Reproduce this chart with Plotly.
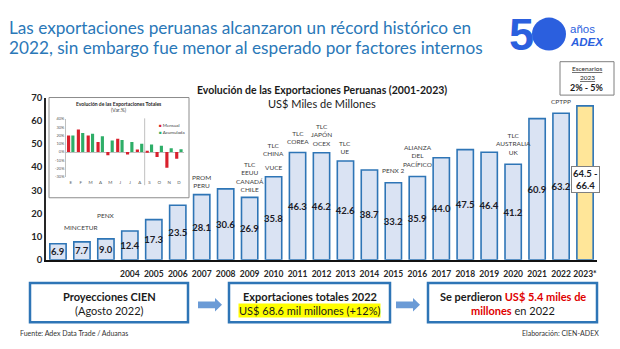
import plotly.graph_objects as go

W, H = 620, 349

# ---------------- data ----------------
years = [str(y) for y in range(2001, 2023)] + ["2023*"]
exports = [6.9, 7.7, 9.0, 12.4, 17.3, 23.5, 28.1, 30.6, 26.9, 35.8, 46.3, 46.2,
           42.6, 38.7, 33.2, 35.9, 44.0, 47.5, 46.4, 41.2, 60.9, 63.2, 66.4]
scenario_low, scenario_high = 64.5, 66.4
tick_years = ["", "", ""] + [str(y) for y in range(2004, 2023)] + ["2023*"]

events = [
    ("2002", "MINCETUR"),
    ("2003", "PENX"),
    ("2007", "PROM<br>PERU"),
    ("2009", "TLC<br>EEUU<br>CANADÁ<br>CHILE"),
    ("2010", "VUCE"),
    ("2010", "TLC<br>CHINA"),
    ("2011", "TLC<br>COREA"),
    ("2012", "TLC<br>JAPÓN<br>OCEX"),
    ("2013", "TLC<br>UE"),
    ("2015", "PENX 2"),
    ("2016", "ALIANZA<br>DEL<br>PACÍFICO"),
    ("2020", "TLC<br>AUSTRALIA<br>UK"),
    ("2022", "CPTPP"),
]

months = ["E", "F", "M", "A", "M", "J", "J", "A", "S", "O", "N", "D"]
mensual = [20, 27, 20, 12, -4, 16, -3, 3, 0.5, -6, -19, -8]
acumulada = [20, 23, 22, 19, 14, 14.5, 12, 10, 9, 7.5, 4.5, 3.5]
inset_ticks = [-30, -20, -10, 0, 10, 20, 30, 40]

# ---------------- helpers ----------------
def px(x):
    return x / W

def py(y):
    return 1 - y / H

FONT = "Lato"
BLUE_T = "#2a78b8"
LOGO = "#2b5fde"

fig = go.Figure()

bar_fill = ["#dae3f3"] * (len(years) - 1) + ["#ffe699"]
bar_text = [f"{v:.1f}" for v in exports[:-1]] + [""]
xi = list(range(len(years)))
fig.add_trace(go.Bar(
    x=xi, y=exports, xaxis="x", yaxis="y",
    marker=dict(color=bar_fill, line=dict(color="#2e75b6", width=1.6)),
    width=0.68,
    text=bar_text, textposition="inside", insidetextanchor="middle",
    textangle=0, constraintext="none",
    textfont=dict(family=FONT, size=9.5, color="#1c1c28", weight="bold"),
    showlegend=False, hoverinfo="skip",
))

mx = list(range(len(months)))
fig.add_trace(go.Bar(
    x=mx, y=mensual, xaxis="x2", yaxis="y2", width=0.32, offset=-0.4,
    marker=dict(color="#d9202c", line=dict(width=0)), showlegend=False, hoverinfo="skip"))
fig.add_trace(go.Bar(
    x=mx, y=acumulada, xaxis="x2", yaxis="y2", width=0.32, offset=0.04,
    marker=dict(color="#2eae68", line=dict(width=0)), showlegend=False, hoverinfo="skip"))

shapes = []
annotations = []

# inset frame
shapes.append(dict(type="rect", xref="paper", yref="paper", x0=px(49), x1=px(189),
                   y0=py(198), y1=py(94.5), line=dict(color="#8c8c8c", width=1),
                   fillcolor="white", layer="below"))
# inset divider
shapes.append(dict(type="line", xref="x2", yref="paper", x0=7.5, x1=7.5,
                   y0=py(185), y1=py(116), line=dict(color="#a6a6a6", width=0.7)))

# escenarios box
shapes.append(dict(type="rect", xref="paper", yref="paper", x0=px(560), x1=px(614),
                   y0=py(92), y1=py(57.5), line=dict(color="#7f7f7f", width=1),
                   fillcolor="white"))

# bottom boxes
for x0, x1 in [(30, 188), (229, 390), (428, 597)]:
    shapes.append(dict(type="rect", xref="paper", yref="paper", x0=px(x0), x1=px(x1),
                       y0=py(326.5), y1=py(286), line=dict(color="#2e75b6", width=2.5),
                       fillcolor="white"))

# arrows
for ax0 in [198, 396]:
    path = (f"M {px(ax0)},{py(305)} L {px(ax0+17)},{py(305)} L {px(ax0+17)},{py(301.5)} "
            f"L {px(ax0+24)},{py(308.5)} L {px(ax0+17)},{py(315.5)} L {px(ax0+17)},{py(312)} "
            f"L {px(ax0)},{py(312)} Z")
    shapes.append(dict(type="path", xref="paper", yref="paper", path=path,
                       fillcolor="#6b9bd6", line=dict(width=0)))

# logo circle
shapes.append(dict(type="circle", xref="paper", yref="paper", x0=px(532), x1=px(566),
                   y0=py(46), y1=py(12), fillcolor=LOGO, line=dict(width=0)))

# header title
annotations.append(dict(xref="paper", yref="paper", x=px(7), y=py(22.5), xanchor="left",
                        yanchor="middle", showarrow=False, align="left",
                        text="Las exportaciones peruanas alcanzaron un récord histórico en",
                        font=dict(family=FONT, size=17.2, color=BLUE_T)))
annotations.append(dict(xref="paper", yref="paper", x=px(7), y=py(43), xanchor="left",
                        yanchor="middle", showarrow=False, align="left",
                        text="2022, sin embargo fue menor al esperado por factores internos",
                        font=dict(family=FONT, size=17.2, color=BLUE_T)))

# logo texts
annotations.append(dict(xref="paper", yref="paper", x=px(536), y=py(29.5), xanchor="right",
                        yanchor="middle", showarrow=False, text="<b>5</b>",
                        font=dict(family="Liberation Sans", size=45, color=LOGO)))
annotations.append(dict(xref="paper", yref="paper", x=px(568), y=py(24), xanchor="left",
                        yanchor="middle", showarrow=False, text="años",
                        font=dict(family="Liberation Sans", size=11.5, color=LOGO)))
annotations.append(dict(xref="paper", yref="paper", x=px(568), y=py(37), xanchor="left",
                        yanchor="middle", showarrow=False, text="<b><i>ADEX</i></b>",
                        font=dict(family="Liberation Sans", size=11.5, color=LOGO)))

# chart title
annotations.append(dict(xref="paper", yref="paper", x=px(322), y=py(87), xanchor="center",
                        yanchor="middle", showarrow=False,
                        text="<b>Evolución de las Exportaciones Peruanas (2001-2023)</b>",
                        font=dict(family=FONT, size=10.5, color="#1a1a1a")))
annotations.append(dict(xref="paper", yref="paper", x=px(322), y=py(101), xanchor="center",
                        yanchor="middle", showarrow=False, text="US$ Miles de Millones",
                        font=dict(family=FONT, size=11, color="#1a1a1a")))

# escenarios text
annotations.append(dict(xref="paper", yref="paper", x=px(587), y=py(65), xanchor="center",
                        yanchor="middle", showarrow=False, text="<u>Escenarios</u>",
                        font=dict(family=FONT, size=6.5, color="#262626")))
annotations.append(dict(xref="paper", yref="paper", x=px(587), y=py(73.5), xanchor="center",
                        yanchor="middle", showarrow=False, text="<u>2023</u>",
                        font=dict(family=FONT, size=6.5, color="#262626")))
annotations.append(dict(xref="paper", yref="paper", x=px(587), y=py(84), xanchor="center",
                        yanchor="middle", showarrow=False, text="<b>2% - 5%</b>",
                        font=dict(family=FONT, size=9, color="#1a1a1a")))

# event labels
event_shift = {"MINCETUR": 9, "PENX": 18, "PROM<br>PERU": 4,
               "TLC<br>EEUU<br>CANADÁ<br>CHILE": 2, "VUCE": 4, "TLC<br>CHINA": 18,
               "TLC<br>COREA": 5, "TLC<br>JAPÓN<br>OCEX": 4, "TLC<br>UE": 4,
               "PENX 2": 7, "ALIANZA<br>DEL<br>PACÍFICO": 7, "TLC<br>AUSTRALIA<br>UK": 6,
               "CPTPP": 6}
for yr, label in events:
    i = years.index(yr)
    annotations.append(dict(xref="x", yref="y", x=i, y=exports[i], xanchor="center",
                            yanchor="bottom", yshift=event_shift[label], showarrow=False,
                            text=label, font=dict(family=FONT, size=6.5, color="#404040")))

# 2023 scenario label
annotations.append(dict(xref="x", yref="y", x=len(years) - 1, y=scenario_high / 2, yshift=3,
                        xanchor="center", yanchor="middle", showarrow=False,
                        text=f"<b>{scenario_low} -<br>{scenario_high}</b>",
                        bgcolor="white", bordercolor="#7f7f7f", borderwidth=1, borderpad=1,
                        font=dict(family=FONT, size=9.5, color="#1c1c28")))

# inset title & legend
annotations.append(dict(xref="paper", yref="paper", x=px(119), y=py(101.5), xanchor="center",
                        yanchor="middle", showarrow=False,
                        text="<b>Evolución de las Exportaciones Totales</b>",
                        font=dict(family=FONT, size=5, color="#262626")))
annotations.append(dict(xref="paper", yref="paper", x=px(119), y=py(107.5), xanchor="center",
                        yanchor="middle", showarrow=False, text="(Var.%)",
                        font=dict(family=FONT, size=5, color="#404040")))
annotations.append(dict(xref="paper", yref="paper", x=px(157), y=py(123.5), xanchor="left",
                        yanchor="middle", showarrow=False,
                        text="<span style='color:#d9202c'>■</span> Mensual",
                        font=dict(family=FONT, size=4.5, color="#404040")))
annotations.append(dict(xref="paper", yref="paper", x=px(157), y=py(131), xanchor="left",
                        yanchor="middle", showarrow=False,
                        text="<span style='color:#2eae68'>■</span> Acumulada",
                        font=dict(family=FONT, size=4.5, color="#404040")))

# bottom box texts
box_font = dict(family=FONT, size=11, color="#1a1a1a")
annotations.append(dict(xref="paper", yref="paper", x=px(109), y=py(300), xanchor="center",
                        yanchor="middle", showarrow=False, text="<b>Proyecciones CIEN</b>",
                        font=box_font))
annotations.append(dict(xref="paper", yref="paper", x=px(109), y=py(314.5), xanchor="center",
                        yanchor="middle", showarrow=False, text="(Agosto 2022)", font=box_font))
annotations.append(dict(xref="paper", yref="paper", x=px(309.5), y=py(300), xanchor="center",
                        yanchor="middle", showarrow=False,
                        text="<b>Exportaciones totales 2022</b>", font=box_font))
annotations.append(dict(xref="paper", yref="paper", x=px(309.5), y=py(314.5), xanchor="center",
                        yanchor="middle", showarrow=False,
                        text="US$ 68.6 mil millones (+12%)", bgcolor="#ffff00", borderpad=0,
                        font=box_font))
annotations.append(dict(xref="paper", yref="paper", x=px(512.5), y=py(300), xanchor="center",
                        yanchor="middle", showarrow=False,
                        text="<b>Se perdieron <span style='color:#e00000'>US$ 5.4 miles de</span></b>",
                        font=box_font))
annotations.append(dict(xref="paper", yref="paper", x=px(512.5), y=py(314.5), xanchor="center",
                        yanchor="middle", showarrow=False,
                        text="<b><span style='color:#e00000'>millones</span></b> en 2022",
                        font=box_font))

# footer
annotations.append(dict(xref="paper", yref="paper", x=px(18), y=py(338), xanchor="left",
                        yanchor="middle", showarrow=False, text="Fuente: Adex Data Trade / Aduanas",
                        font=dict(family=FONT, size=7, color="#333333")))
annotations.append(dict(xref="paper", yref="paper", x=px(601), y=py(338), xanchor="right",
                        yanchor="middle", showarrow=False, text="Elaboración: CIEN-ADEX",
                        font=dict(family=FONT, size=7, color="#333333")))

fig.update_layout(
    width=W, height=H, margin=dict(l=0, r=0, t=0, b=0),
    paper_bgcolor="white", plot_bgcolor="rgba(0,0,0,0)",
    barmode="overlay", showlegend=False,
    shapes=shapes, annotations=annotations,
    xaxis=dict(domain=[px(46), px(597)], anchor="y",
               range=[-0.5, len(years) - 0.5], tickmode="array", tickvals=xi,
               ticktext=tick_years, tickangle=0, ticklabelstandoff=5,
               showgrid=False, zeroline=False,
               showline=True, linecolor="#111111", linewidth=2, ticks="",
               tickfont=dict(family=FONT, size=8.5, color="#262626", weight="bold")),
    yaxis=dict(domain=[py(262), py(94.5)], anchor="x", range=[0, 70],
               tickmode="array", tickvals=[0, 10, 20, 30, 40, 50, 60, 70],
               showgrid=False, zeroline=False, showline=True, linecolor="#262626",
               linewidth=1.5, ticks="",
               tickfont=dict(family=FONT, size=9.5, color="#262626", weight="bold")),
    xaxis2=dict(domain=[px(66), px(184)], anchor="y2", range=[-0.5, 11.5],
                tickmode="array", tickvals=mx, ticktext=months, showgrid=False,
                zeroline=False, showline=False, ticks="", ticklabelstandoff=2,
                tickfont=dict(family=FONT, size=4.5, color="#595959")),
    yaxis2=dict(domain=[py(176.5), py(116.5)], anchor="x2", range=[-30, 40],
                tickmode="array", tickvals=inset_ticks,
                ticktext=[f"{t}%" for t in inset_ticks], showgrid=False,
                zeroline=True, zerolinecolor="#bfbfbf", zerolinewidth=0.8,
                showline=True, linecolor="#bfbfbf", linewidth=0.7, ticks="",
                tickfont=dict(family=FONT, size=4, color="#595959")),
)

fig.write_html("out.html")
